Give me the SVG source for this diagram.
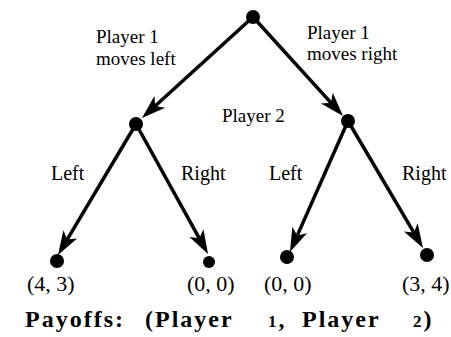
<svg xmlns="http://www.w3.org/2000/svg" width="451" height="337" viewBox="0 0 451 337">
<style>
.t{font-family:"Liberation Serif","Times New Roman",serif;fill:#000}
.lbl{font-size:19px}
.br{font-size:20px}
.pay{font-size:22px}
.foot{font-size:24px;font-weight:bold;letter-spacing:2px}
.e{stroke:#000;stroke-width:3.5;fill:none;marker-end:url(#ah)}
.n{fill:#000}
</style>
<defs>
<marker id="ah" markerUnits="userSpaceOnUse" markerWidth="24" markerHeight="16" refX="14" refY="8" orient="auto" overflow="visible">
<path d="M0,0 L24,8 L0,16 L6,8 z" fill="#000"/>
</marker>
</defs>
<rect width="451" height="337" fill="#fff"/>
<g id="connectors">
<line class="e" x1="253" y1="17" x2="149.4" y2="111.3"/>
<line class="e" x1="253" y1="17" x2="336.3" y2="108.6"/>
<line class="e" x1="136" y1="124" x2="63.1" y2="246.4"/>
<line class="e" x1="136" y1="124" x2="203.2" y2="245.3"/>
<line class="e" x1="348" y1="121" x2="294" y2="242.9"/>
<line class="e" x1="348" y1="121" x2="417.9" y2="239.4"/>
</g>
<g id="root"><circle class="n" cx="253" cy="17" r="7"/></g>
<g id="p2left"><circle class="n" cx="136" cy="124" r="7"/></g>
<g id="p2right"><circle class="n" cx="348" cy="121" r="7"/></g>
<g id="leaf1"><circle class="n" cx="57" cy="261" r="7"/><text class="t pay" x="27" y="291">(4, 3)</text></g>
<g id="leaf2"><circle class="n" cx="209" cy="262" r="6"/><text class="t pay" x="187" y="291">(0, 0)</text></g>
<g id="leaf3"><circle class="n" cx="287" cy="257" r="7"/><text class="t pay" x="264" y="291">(0, 0)</text></g>
<g id="leaf4"><circle class="n" cx="427" cy="255" r="7"/><text class="t pay" x="402" y="291">(3, 4)</text></g>
<g id="labels">
<text class="t lbl" x="96" y="43">Player 1</text>
<text class="t lbl" x="96" y="65">moves left</text>
<text class="t lbl" x="307" y="39">Player 1</text>
<text class="t lbl" x="307" y="60">moves right</text>
<text class="t lbl" x="222" y="122">Player 2</text>
<text class="t br" x="51" y="180">Left</text>
<text class="t br" x="181" y="180">Right</text>
<text class="t br" x="269" y="180">Left</text>
<text class="t br" x="402" y="180">Right</text>
</g>
<g id="footer">
<text class="t foot" y="327"><tspan x="25">Payoffs:</tspan><tspan x="145">(Player</tspan><tspan x="268" font-size="17">1</tspan><tspan>,</tspan><tspan x="302">Player</tspan><tspan x="413" font-size="17">2</tspan><tspan>)</tspan></text>
</g>
</svg>
